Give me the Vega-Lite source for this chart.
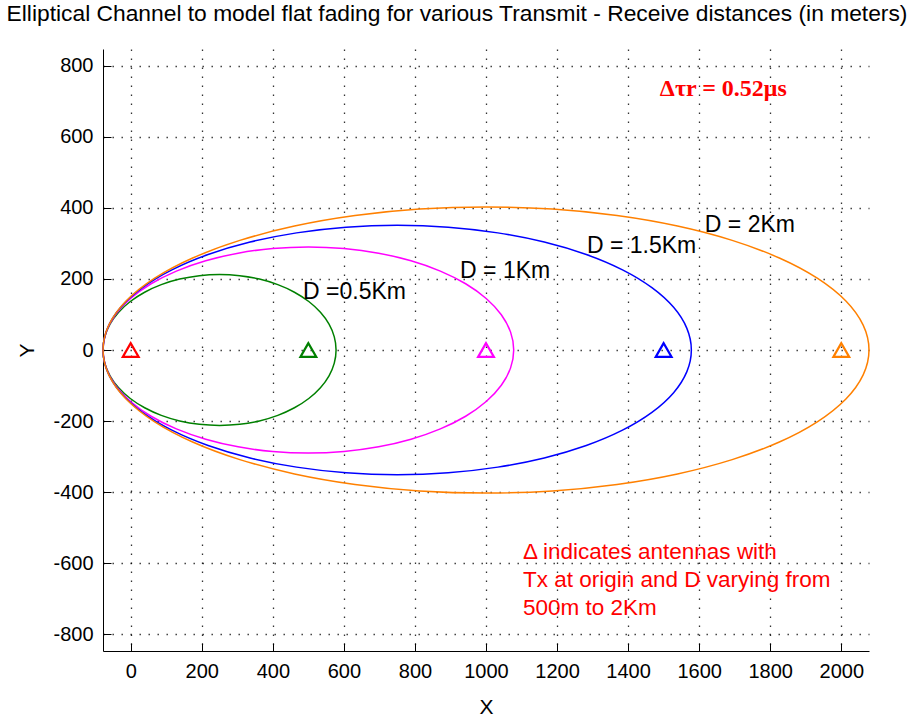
{
  "$schema": "https://vega.github.io/schema/vega-lite/v6.json",
  "width": 766,
  "height": 602,
  "autosize": {"type": "none"},
  "padding": {"left": 103, "top": 49, "right": 46, "bottom": 72},
  "background": "#ffffff",
  "title": {
    "text": "Elliptical Channel to model flat fading for various Transmit - Receive distances (in meters)",
    "font": "Liberation Sans",
    "fontSize": 22.8,
    "fontWeight": "normal",
    "color": "#000000",
    "anchor": "middle",
    "dx": -29,
    "offset": 23
  },
  "config": {
    "font": "Liberation Sans",
    "view": {"stroke": null},
    "axis": {
      "domainColor": "#000000",
      "domainWidth": 1,
      "tickColor": "#000000",
      "tickWidth": 1,
      "tickSize": -8,
      "labelFont": "Liberation Sans",
      "labelFontSize": 20,
      "labelColor": "#000000",
      "titleFont": "Liberation Sans",
      "titleFontSize": 21,
      "titleFontWeight": "normal",
      "titleColor": "#000000",
      "grid": true,
      "gridColor": "#000000",
      "gridOpacity": 0.8,
      "gridDash": [1.4, 7.6],
      "gridWidth": 1.3
    }
  },
  "datasets": {
    "ellipses": [
      {"D": "0.5", "i": 0, "x": 578, "y": 0},
      {"D": "0.5", "i": 1, "x": 573.0, "y": 36.9},
      {"D": "0.5", "i": 2, "x": 558.2, "y": 72.6},
      {"D": "0.5", "i": 3, "x": 534.0, "y": 106.2},
      {"D": "0.5", "i": 4, "x": 501.2, "y": 136.5},
      {"D": "0.5", "i": 5, "x": 460.8, "y": 162.6},
      {"D": "0.5", "i": 6, "x": 414.0, "y": 183.9},
      {"D": "0.5", "i": 7, "x": 362.2, "y": 199.5},
      {"D": "0.5", "i": 8, "x": 306.9, "y": 209.1},
      {"D": "0.5", "i": 9, "x": 250, "y": 212.3},
      {"D": "0.5", "i": 10, "x": 193.1, "y": 209.1},
      {"D": "0.5", "i": 11, "x": 137.8, "y": 199.5},
      {"D": "0.5", "i": 12, "x": 86.0, "y": 183.9},
      {"D": "0.5", "i": 13, "x": 39.2, "y": 162.6},
      {"D": "0.5", "i": 14, "x": -1.2, "y": 136.5},
      {"D": "0.5", "i": 15, "x": -34.0, "y": 106.2},
      {"D": "0.5", "i": 16, "x": -58.2, "y": 72.6},
      {"D": "0.5", "i": 17, "x": -73.0, "y": 36.9},
      {"D": "0.5", "i": 18, "x": -78, "y": 0},
      {"D": "0.5", "i": 19, "x": -73.0, "y": -36.9},
      {"D": "0.5", "i": 20, "x": -58.2, "y": -72.6},
      {"D": "0.5", "i": 21, "x": -34.0, "y": -106.2},
      {"D": "0.5", "i": 22, "x": -1.2, "y": -136.5},
      {"D": "0.5", "i": 23, "x": 39.2, "y": -162.6},
      {"D": "0.5", "i": 24, "x": 86.0, "y": -183.9},
      {"D": "0.5", "i": 25, "x": 137.8, "y": -199.5},
      {"D": "0.5", "i": 26, "x": 193.1, "y": -209.1},
      {"D": "0.5", "i": 27, "x": 250, "y": -212.3},
      {"D": "0.5", "i": 28, "x": 306.9, "y": -209.1},
      {"D": "0.5", "i": 29, "x": 362.2, "y": -199.5},
      {"D": "0.5", "i": 30, "x": 414.0, "y": -183.9},
      {"D": "0.5", "i": 31, "x": 460.8, "y": -162.6},
      {"D": "0.5", "i": 32, "x": 501.2, "y": -136.5},
      {"D": "0.5", "i": 33, "x": 534.0, "y": -106.2},
      {"D": "0.5", "i": 34, "x": 558.2, "y": -72.6},
      {"D": "0.5", "i": 35, "x": 573.0, "y": -36.9},

      {"D": "1", "i": 0, "x": 1078, "y": 0},
      {"D": "1", "i": 1, "x": 1069.2, "y": 50.3},
      {"D": "1", "i": 2, "x": 1043.1, "y": 99.2},
      {"D": "1", "i": 3, "x": 1000.5, "y": 145.0},
      {"D": "1", "i": 4, "x": 942.7, "y": 186.4},
      {"D": "1", "i": 5, "x": 871.5, "y": 222.1},
      {"D": "1", "i": 6, "x": 789, "y": 251.1},
      {"D": "1", "i": 7, "x": 697.7, "y": 272.5},
      {"D": "1", "i": 8, "x": 600.3, "y": 285.6},
      {"D": "1", "i": 9, "x": 500, "y": 290.0},
      {"D": "1", "i": 10, "x": 399.7, "y": 285.6},
      {"D": "1", "i": 11, "x": 302.3, "y": 272.5},
      {"D": "1", "i": 12, "x": 211, "y": 251.1},
      {"D": "1", "i": 13, "x": 128.5, "y": 222.1},
      {"D": "1", "i": 14, "x": 57.3, "y": 186.4},
      {"D": "1", "i": 15, "x": -0.5, "y": 145.0},
      {"D": "1", "i": 16, "x": -43.1, "y": 99.2},
      {"D": "1", "i": 17, "x": -69.2, "y": 50.3},
      {"D": "1", "i": 18, "x": -78, "y": 0},
      {"D": "1", "i": 19, "x": -69.2, "y": -50.3},
      {"D": "1", "i": 20, "x": -43.1, "y": -99.2},
      {"D": "1", "i": 21, "x": -0.5, "y": -145.0},
      {"D": "1", "i": 22, "x": 57.3, "y": -186.4},
      {"D": "1", "i": 23, "x": 128.5, "y": -222.1},
      {"D": "1", "i": 24, "x": 211, "y": -251.1},
      {"D": "1", "i": 25, "x": 302.3, "y": -272.5},
      {"D": "1", "i": 26, "x": 399.7, "y": -285.6},
      {"D": "1", "i": 27, "x": 500, "y": -290.0},
      {"D": "1", "i": 28, "x": 600.3, "y": -285.6},
      {"D": "1", "i": 29, "x": 697.7, "y": -272.5},
      {"D": "1", "i": 30, "x": 789, "y": -251.1},
      {"D": "1", "i": 31, "x": 871.5, "y": -222.1},
      {"D": "1", "i": 32, "x": 942.7, "y": -186.4},
      {"D": "1", "i": 33, "x": 1000.5, "y": -145.0},
      {"D": "1", "i": 34, "x": 1043.1, "y": -99.2},
      {"D": "1", "i": 35, "x": 1069.2, "y": -50.3},

      {"D": "1.5", "i": 0, "x": 1578, "y": 0},
      {"D": "1.5", "i": 1, "x": 1565.4, "y": 60.9},
      {"D": "1.5", "i": 2, "x": 1528.1, "y": 120.0},
      {"D": "1.5", "i": 3, "x": 1467.0, "y": 175.4},
      {"D": "1.5", "i": 4, "x": 1384.2, "y": 225.5},
      {"D": "1.5", "i": 5, "x": 1282.2, "y": 268.7},
      {"D": "1.5", "i": 6, "x": 1164, "y": 303.8},
      {"D": "1.5", "i": 7, "x": 1033.2, "y": 329.6},
      {"D": "1.5", "i": 8, "x": 893.7, "y": 345.5},
      {"D": "1.5", "i": 9, "x": 750, "y": 350.8},
      {"D": "1.5", "i": 10, "x": 606.3, "y": 345.5},
      {"D": "1.5", "i": 11, "x": 466.8, "y": 329.6},
      {"D": "1.5", "i": 12, "x": 336, "y": 303.8},
      {"D": "1.5", "i": 13, "x": 217.8, "y": 268.7},
      {"D": "1.5", "i": 14, "x": 115.8, "y": 225.5},
      {"D": "1.5", "i": 15, "x": 33.0, "y": 175.4},
      {"D": "1.5", "i": 16, "x": -28.1, "y": 120.0},
      {"D": "1.5", "i": 17, "x": -65.4, "y": 60.9},
      {"D": "1.5", "i": 18, "x": -78, "y": 0},
      {"D": "1.5", "i": 19, "x": -65.4, "y": -60.9},
      {"D": "1.5", "i": 20, "x": -28.1, "y": -120.0},
      {"D": "1.5", "i": 21, "x": 33.0, "y": -175.4},
      {"D": "1.5", "i": 22, "x": 115.8, "y": -225.5},
      {"D": "1.5", "i": 23, "x": 217.8, "y": -268.7},
      {"D": "1.5", "i": 24, "x": 336, "y": -303.8},
      {"D": "1.5", "i": 25, "x": 466.8, "y": -329.6},
      {"D": "1.5", "i": 26, "x": 606.3, "y": -345.5},
      {"D": "1.5", "i": 27, "x": 750, "y": -350.8},
      {"D": "1.5", "i": 28, "x": 893.7, "y": -345.5},
      {"D": "1.5", "i": 29, "x": 1033.2, "y": -329.6},
      {"D": "1.5", "i": 30, "x": 1164, "y": -303.8},
      {"D": "1.5", "i": 31, "x": 1282.2, "y": -268.7},
      {"D": "1.5", "i": 32, "x": 1384.2, "y": -225.5},
      {"D": "1.5", "i": 33, "x": 1467.0, "y": -175.4},
      {"D": "1.5", "i": 34, "x": 1528.1, "y": -120.0},
      {"D": "1.5", "i": 35, "x": 1565.4, "y": -60.9},

      {"D": "2", "i": 0, "x": 2078, "y": 0},
      {"D": "2", "i": 1, "x": 2061.6, "y": 69.9},
      {"D": "2", "i": 2, "x": 2013.0, "y": 137.7},
      {"D": "2", "i": 3, "x": 1933.5, "y": 201.3},
      {"D": "2", "i": 4, "x": 1825.7, "y": 258.8},
      {"D": "2", "i": 5, "x": 1692.9, "y": 308.4},
      {"D": "2", "i": 6, "x": 1539, "y": 348.7},
      {"D": "2", "i": 7, "x": 1368.7, "y": 378.3},
      {"D": "2", "i": 8, "x": 1187.1, "y": 396.5},
      {"D": "2", "i": 9, "x": 1000, "y": 402.6},
      {"D": "2", "i": 10, "x": 812.9, "y": 396.5},
      {"D": "2", "i": 11, "x": 631.3, "y": 378.3},
      {"D": "2", "i": 12, "x": 461, "y": 348.7},
      {"D": "2", "i": 13, "x": 307.1, "y": 308.4},
      {"D": "2", "i": 14, "x": 174.3, "y": 258.8},
      {"D": "2", "i": 15, "x": 66.5, "y": 201.3},
      {"D": "2", "i": 16, "x": -13.0, "y": 137.7},
      {"D": "2", "i": 17, "x": -61.6, "y": 69.9},
      {"D": "2", "i": 18, "x": -78, "y": 0},
      {"D": "2", "i": 19, "x": -61.6, "y": -69.9},
      {"D": "2", "i": 20, "x": -13.0, "y": -137.7},
      {"D": "2", "i": 21, "x": 66.5, "y": -201.3},
      {"D": "2", "i": 22, "x": 174.3, "y": -258.8},
      {"D": "2", "i": 23, "x": 307.1, "y": -308.4},
      {"D": "2", "i": 24, "x": 461, "y": -348.7},
      {"D": "2", "i": 25, "x": 631.3, "y": -378.3},
      {"D": "2", "i": 26, "x": 812.9, "y": -396.5},
      {"D": "2", "i": 27, "x": 1000, "y": -402.6},
      {"D": "2", "i": 28, "x": 1187.1, "y": -396.5},
      {"D": "2", "i": 29, "x": 1368.7, "y": -378.3},
      {"D": "2", "i": 30, "x": 1539, "y": -348.7},
      {"D": "2", "i": 31, "x": 1692.9, "y": -308.4},
      {"D": "2", "i": 32, "x": 1825.7, "y": -258.8},
      {"D": "2", "i": 33, "x": 1933.5, "y": -201.3},
      {"D": "2", "i": 34, "x": 2013.0, "y": -137.7},
      {"D": "2", "i": 35, "x": 2061.6, "y": -69.9}
    ],
    "antennas": [
      {"D": "Tx", "x": 0, "y": 0},
      {"D": "0.5", "x": 500, "y": 0},
      {"D": "1", "x": 1000, "y": 0},
      {"D": "1.5", "x": 1500, "y": 0},
      {"D": "2", "x": 2000, "y": 0}
    ],
    "labels": [
      {"text": "D =0.5Km", "x": 485, "y": 163},
      {"text": "D = 1Km", "x": 927, "y": 222},
      {"text": "D = 1.5Km", "x": 1284, "y": 293},
      {"text": "D = 2Km", "x": 1616, "y": 352}
    ],
    "notes": [
      {"text": "Δ indicates antennas with", "x": 1104, "y": -568},
      {"text": "Tx at origin and D varying from", "x": 1104, "y": -647},
      {"text": "500m to 2Km", "x": 1104, "y": -726}
    ],
    "delay": [
      {"text": "Δτr = 0.52μs", "x": 1668, "y": 734}
    ]
  },
  "layer": [
    {
      "data": {"name": "ellipses"},
      "mark": {"type": "line", "interpolate": "cardinal-closed", "strokeWidth": 1.5},
      "encoding": {
        "x": {
          "field": "x", "type": "quantitative",
          "scale": {"domain": [-78, 2078], "nice": false, "zero": false},
          "axis": {
            "title": "X",
            "format": "d",
            "values": [0, 200, 400, 600, 800, 1000, 1200, 1400, 1600, 1800, 2000],
            "labelPadding": 18,
            "titlePadding": 15
          }
        },
        "y": {
          "field": "y", "type": "quantitative",
          "scale": {"domain": [-847, 847], "nice": false, "zero": false},
          "axis": {
            "title": "Y",
            "format": "d",
            "labelExpr": "replace(datum.label, '−', '-')",
            "values": [-800, -600, -400, -200, 0, 200, 400, 600, 800],
            "labelPadding": 18,
            "titlePadding": 15
          }
        },
        "order": {"field": "i", "type": "quantitative"},
        "color": {
          "field": "D", "type": "nominal",
          "scale": {
            "domain": ["Tx", "0.5", "1", "1.5", "2"],
            "range": ["#ff0000", "#008000", "#ff00ff", "#0000ff", "#ff8000"]
          },
          "legend": null
        }
      }
    },
    {
      "data": {"name": "antennas"},
      "mark": {"type": "point", "shape": "triangle-up", "filled": false, "size": 250, "strokeWidth": 2.2, "opacity": 1},
      "encoding": {
        "x": {"field": "x", "type": "quantitative"},
        "y": {"field": "y", "type": "quantitative"},
        "color": {"field": "D", "type": "nominal", "legend": null}
      }
    },
    {
      "data": {"name": "labels"},
      "mark": {"type": "text", "align": "left", "baseline": "middle", "font": "Liberation Sans", "fontSize": 23, "color": "#000000"},
      "encoding": {
        "x": {"field": "x", "type": "quantitative"},
        "y": {"field": "y", "type": "quantitative"},
        "text": {"field": "text"}
      }
    },
    {
      "data": {"name": "notes"},
      "mark": {"type": "text", "align": "left", "baseline": "middle", "font": "Liberation Sans", "fontSize": 22.5, "color": "#ff0000"},
      "encoding": {
        "x": {"field": "x", "type": "quantitative"},
        "y": {"field": "y", "type": "quantitative"},
        "text": {"field": "text"}
      }
    },
    {
      "data": {"name": "delay"},
      "mark": {"type": "text", "align": "center", "baseline": "middle", "font": "Liberation Serif", "fontSize": 24, "fontWeight": "bold", "color": "#ff0000"},
      "encoding": {
        "x": {"field": "x", "type": "quantitative"},
        "y": {"field": "y", "type": "quantitative"},
        "text": {"field": "text"}
      }
    }
  ]
}
